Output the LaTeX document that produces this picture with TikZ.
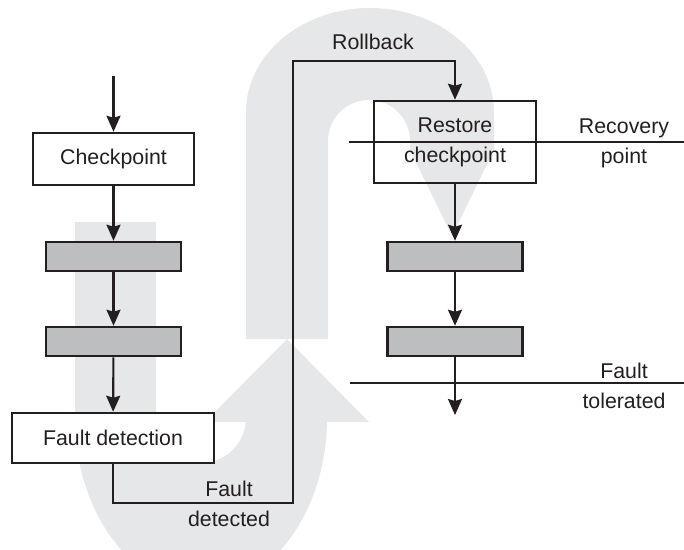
\documentclass[tikz,border=0pt]{standalone}
\usepackage{fontspec}
\setmainfont{Liberation Sans}
\usetikzlibrary{arrows.meta}
\definecolor{ink}{HTML}{231F20}
\definecolor{swoosh}{HTML}{E6E7E8}
\definecolor{bargrey}{HTML}{BCBEC0}

\begin{document}
\begin{tikzpicture}[x=0.75pt,y=-0.75pt,->,>={Stealth[length=12pt,width=10.5pt,inset=1.5pt]},line width=1.6pt,color=ink,
  txt/.style={font=\fontsize{16}{22.5}\selectfont,text=ink,align=center},
  box/.style={txt,draw=ink,fill=white,line width=1.9pt,minimum width=120.75pt,minimum height=39pt,inner sep=0pt},
  bar/.style={draw=ink,fill=bargrey,line width=1.9pt,minimum width=101.25pt,minimum height=21.75pt,inner sep=0pt},
]
  \useasboundingbox (0,0) rectangle (684,549);

  % big grey rollback arrows
  \begin{scope}
    \clip (0,0) rectangle (684,549);
    \fill[swoosh] (75,222) -- (156,222) -- (156,418) arc[start angle=180,end angle=0,radius=45]
      -- (246,422) -- (205,422) -- (287,339) -- (369,422) -- (327,422) -- (327,418)
      arc[start angle=0,end angle=180,x radius=126,y radius=170] -- cycle;
    \fill[swoosh] (246,339) -- (246,112) arc[start angle=180,end angle=360,x radius=124,y radius=104]
      -- (494,150) -- (452,236) -- (410,150) -- (410,141)
      arc[start angle=0,end angle=-180,radius=41] -- (328,339) -- cycle;
  \end{scope}

  \coordinate (in) at (113.5,76);
  \coordinate (out) at (455,415);
  \coordinate (lowturn) at (293,503);
  \coordinate (highturn) at (293,61);
  \coordinate (recA) at (349,142);
  \coordinate (recB) at (684,142);
  \coordinate (tolA) at (350,383);
  \coordinate (tolB) at (684,383);

  \draw[-] (recA) -- (recB);
  \draw[-] (tolA) -- (tolB);

  \node[box] (cp) at (113.5,159) {Checkpoint};
  \node[bar] (l1) at (113.5,256.5) {};
  \node[bar] (l2) at (113.5,341.5) {};
  \node[box,minimum width=151.5pt,minimum height=37.5pt] (fd) at (113,438) {Fault detection};
  \node[box,fill=none,minimum width=121.5pt,minimum height=61.5pt] (rc) at (455,142) {Restore\\checkpoint};
  \node[bar] (r1) at (455,256.5) {};
  \node[bar] (r2) at (455,341.5) {};

  \node[txt] (rb) at (373,42) {Rollback};
  \node[txt] (fdt) at (229,503.5) {Fault\\detected};
  \node[txt] (rp) at (624,143) {Recovery\\point};
  \node[txt] (ft) at (624,385.5) {Fault\\tolerated};

  \draw (in) -- (cp);
  \draw (cp) -- (l1);
  \draw (l1) -- (l2);
  \draw (l2) -- (fd);
  \draw (fd) |- (lowturn) -- (highturn) -| (rc);
  \draw (rc) -- (r1);
  \draw (r1) -- (r2);
  \draw (r2) -- (out);

\end{tikzpicture}
\end{document}
